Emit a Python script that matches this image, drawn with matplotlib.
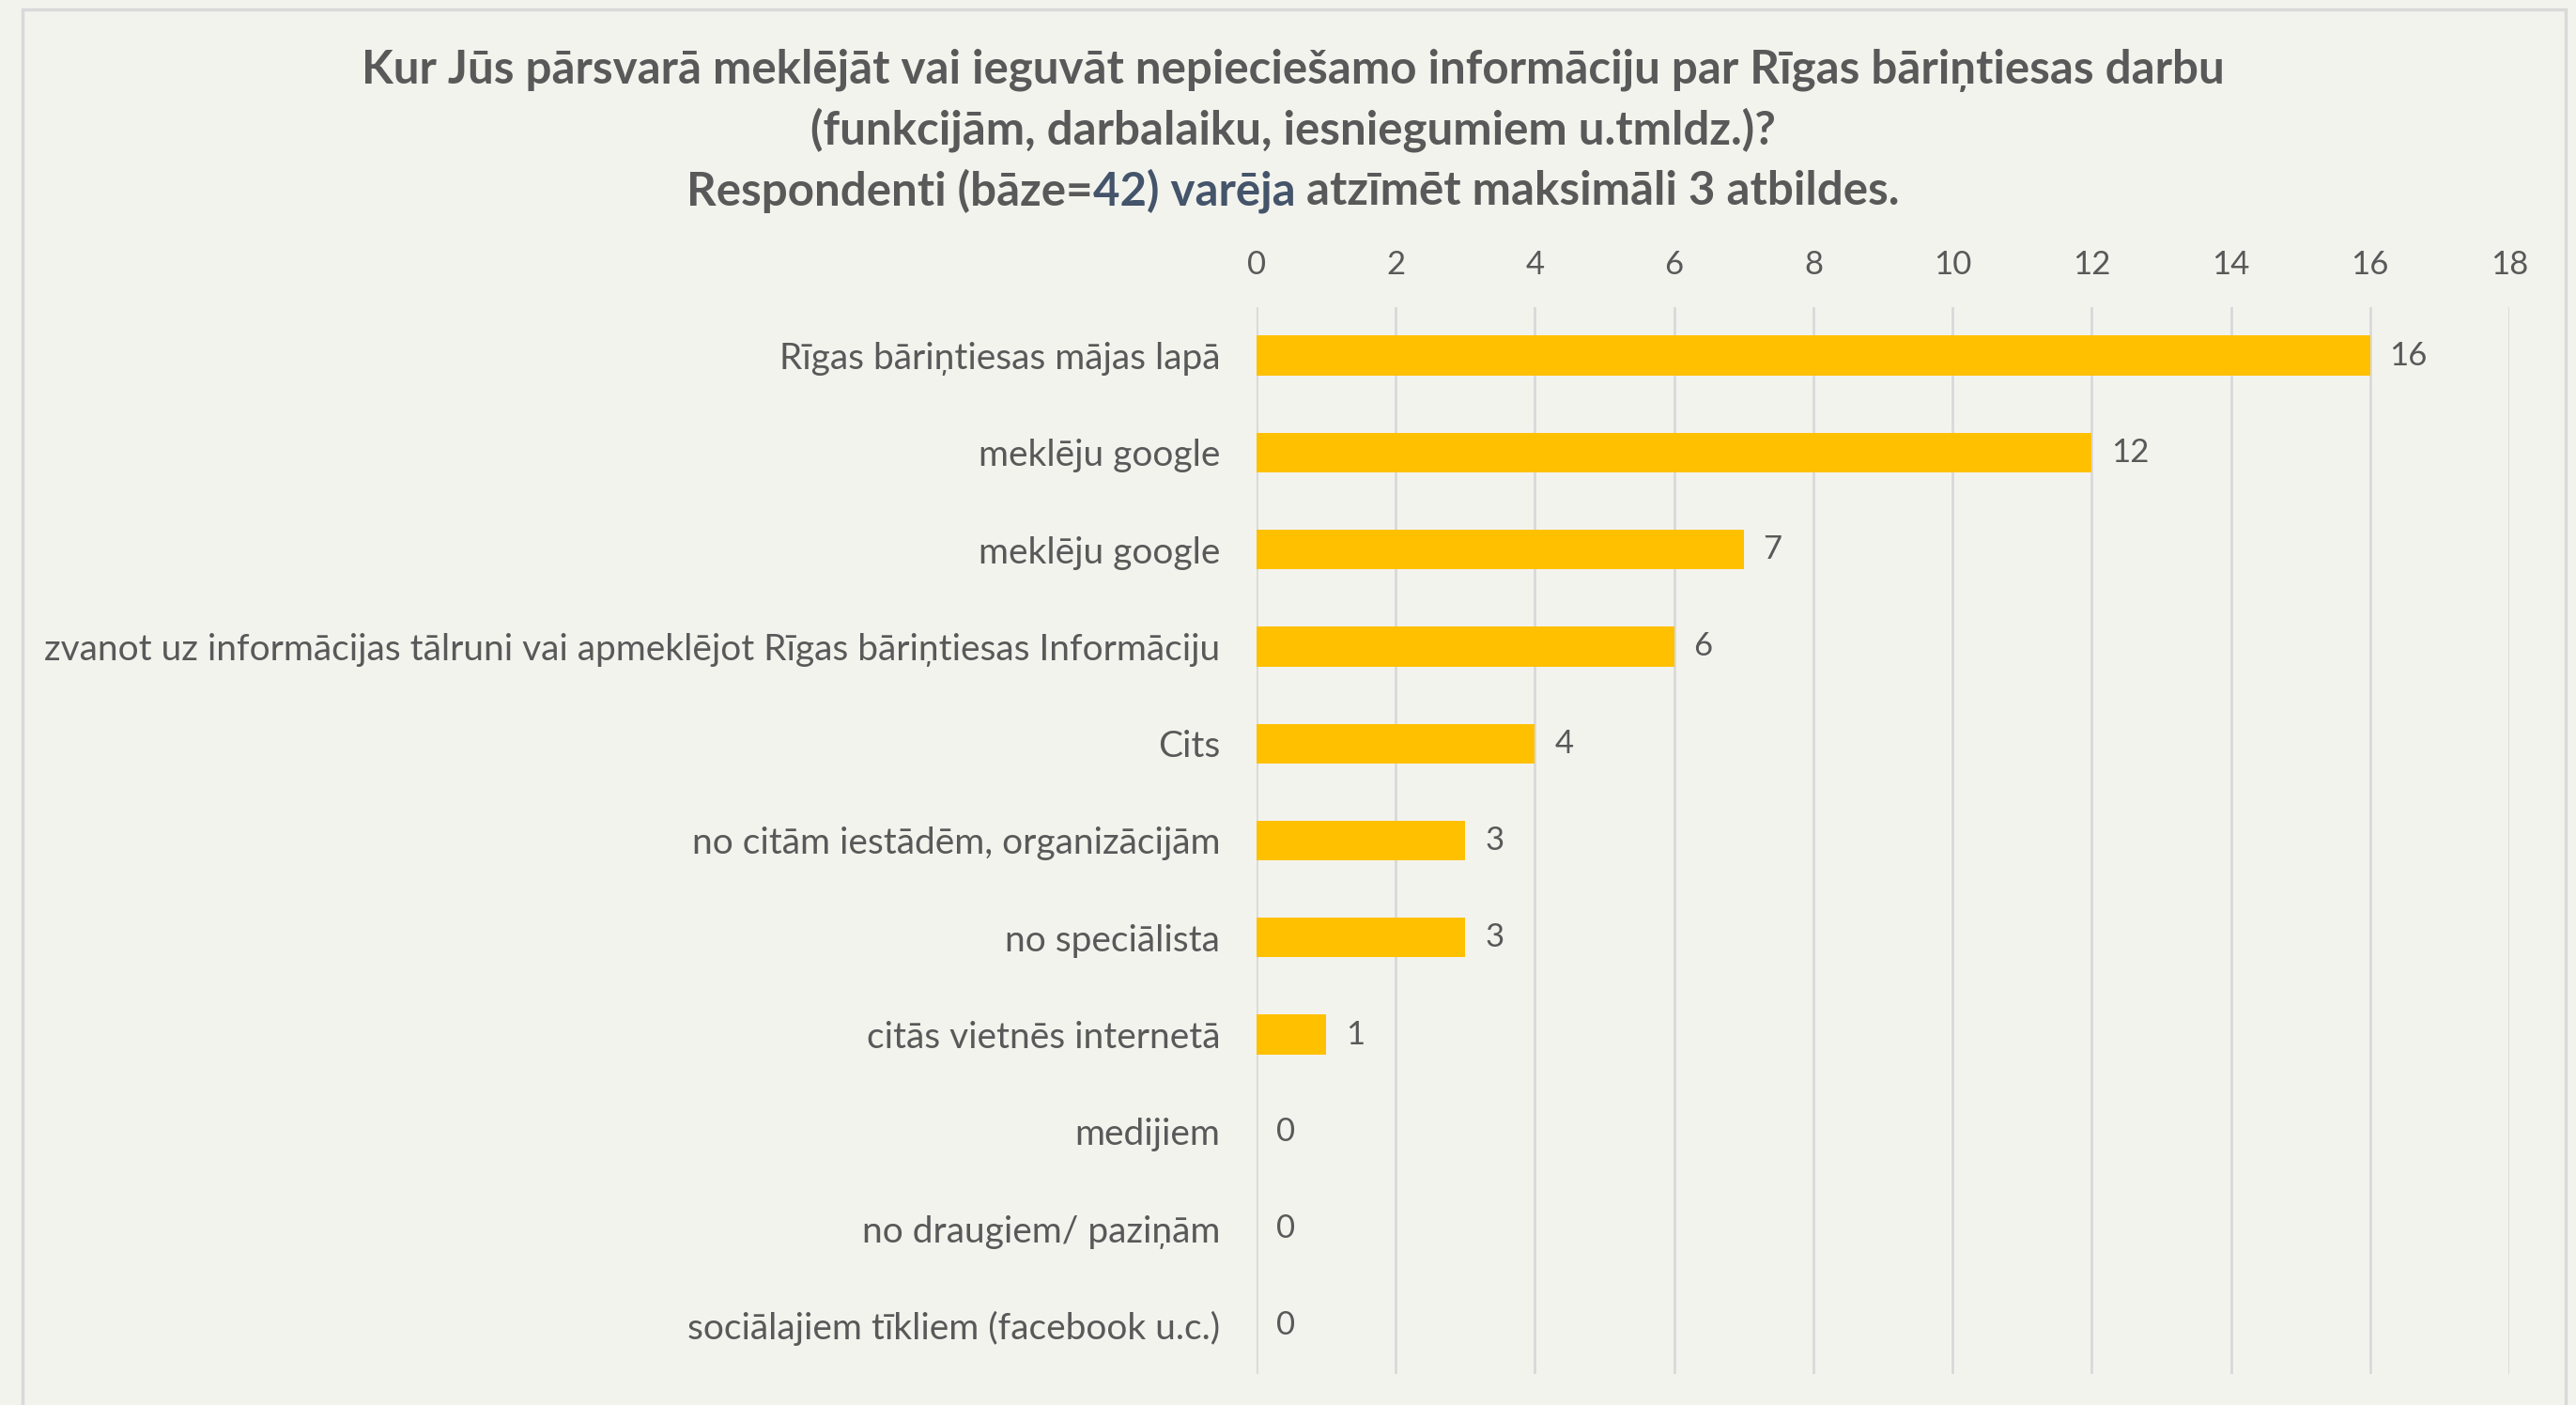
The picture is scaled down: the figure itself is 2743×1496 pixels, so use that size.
import matplotlib
matplotlib.use("Agg")
import matplotlib.pyplot as plt
from matplotlib.patches import Rectangle

plt.rcParams['font.family'] = ['Lato', 'DejaVu Sans']

# data, top to bottom as shown
categories = [
    'Rīgas bāriņtiesas mājas lapā',
    'meklēju google',
    'meklēju google',
    'zvanot uz informācijas tālruni vai apmeklējot Rīgas bāriņtiesas Informāciju',
    'Cits',
    'no citām iestādēm, organizācijām',
    'no speciālista',
    'citās vietnēs internetā',
    'medijiem',
    'no draugiem/ paziņām',
    'sociālajiem tīkliem (facebook u.c.)',
]
counts = [16, 12, 7, 6, 4, 3, 3, 1, 0, 0, 0]
x_ticks = [0, 2, 4, 6, 8, 10, 12, 14, 16, 18]

title_line1 = 'Kur Jūs pārsvarā meklējāt vai ieguvāt nepieciešamo informāciju par Rīgas bāriņtiesas darbu'
title_line2 = '(funkcijām, darbalaiku, iesniegumiem u.tmldz.)?'
title_parts3 = [('Respondenti (bāze=', '#595959'), ('42) varēja', '#44546A'),
                (' atzīmēt maksimāli 3 atbildes.', '#595959')]

bg = '#F3F3EE'
grey = '#595959'
W, H = 2743, 1496
fig = plt.figure(figsize=(W / 100, H / 100), dpi=100, facecolor=bg)

# outer frame (cut off at the bottom, like the screenshot)
fig.patches.append(Rectangle((24 / W, -0.05), (2732 - 24) / W, 1.05 - 10 / H,
                             transform=fig.transFigure, fill=False,
                             edgecolor='#D9D9D9', linewidth=2.5))

ax = fig.add_axes([1338 / W, 1 - 1463 / H, (2672 - 1338) / W, (1463 - 327) / H])
ax.set_facecolor(bg)

ypos = list(range(len(categories)))
ax.barh(ypos, counts, height=0.41, color='#FFC000', zorder=3)
for y, v in zip(ypos, counts):
    ax.text(v + 0.28, y, str(v), va='center', ha='left', fontsize=25, color=grey)

ax.set_xlim(0, 18)
ax.set_ylim(len(categories) - 0.5, -0.5)
ax.set_xticks(x_ticks)
ax.xaxis.tick_top()
ax.tick_params(axis='x', length=0, pad=21, labelsize=25, labelcolor=grey)
ax.set_yticks(ypos)
ax.set_yticklabels(categories)
ax.tick_params(axis='y', length=0, pad=28, labelsize=28, labelcolor=grey)
ax.grid(axis='x', color='#D9D9D9', linewidth=2, zorder=0)
for s in ax.spines.values():
    s.set_visible(False)

cx = 1377 / W
fig.text(cx, 1 - 75 / H, title_line1, ha='center', va='center', fontsize=35.5,
         fontweight='bold', color=grey)
fig.text(cx, 1 - 138 / H, title_line2, ha='center', va='center', fontsize=35.5,
         fontweight='bold', color=grey)

# third line has a blue part in the middle
renderer = fig.canvas.get_renderer()
pieces = []
for txt, col in title_parts3:
    t = fig.text(0, 1 - 203 / H, txt, ha='left', va='center', fontsize=35.5,
                 fontweight='bold', color=col)
    pieces.append(t)
widths = [p.get_window_extent(renderer).width for p in pieces]
x = cx * W - sum(widths) / 2
for p, w in zip(pieces, widths):
    p.set_x(x / W)
    x += w

fig.savefig('out.png', dpi=100, facecolor=bg)
